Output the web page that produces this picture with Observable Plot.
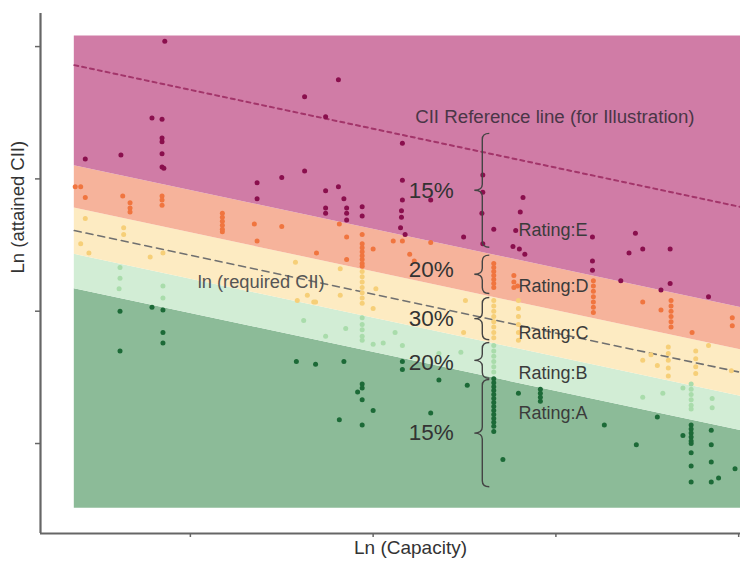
<!DOCTYPE html>
<html><head><meta charset="utf-8">
<script src="https://cdn.jsdelivr.net/npm/d3@7"></script>
<script src="https://cdn.jsdelivr.net/npm/@observablehq/plot@0.6"></script>
<style>body{margin:0;background:#fff} #chart svg{display:block}</style>
</head><body><div id="chart"></div>
<script>
// ---- axes (no numeric labels in the original) ----
const xTicks = [8, 10, 12, 14];
const yTicks = [1, 2, 3, 4];
const xDomain = [6.36, 14.02];
const yDomain = [0.32, 4.25];

// ---- rating bands ----
const bandX = [6.73, 14.02];
const bandTop = 4.08;
const bandBottom = 0.51;
const requiredAt8 = 2.423;       // ln(required CII) at x = 8
const requiredSlope = -0.147;
const referenceOffset = 1.25;    // CII reference line above required line
const ratings = ["A", "B", "C", "D", "E"];
const boundaryOffsets = [-0.44, -0.18, 0.17, 0.49]; // A/B, B/C, C/D, D/E
const bandColors = ["#8cbb98", "#d2edd5", "#fdebc2", "#f6b39b", "#d07ca6"];
const pointColors = ["#1c6a37", "#a9dcab", "#f6cf78", "#f0753f", "#8a0f4d"];

// ---- ships (ln capacity, ln attained CII) ----
const pointsE = [[7.72,4.04],[9.62,3.75],[9.25,3.62],[9.48,3.47],[7.58,3.46],[7.69,3.45],[7.69,3.31],[7.69,3.28],[7.69,3.19],[7.69,3.09],[7.71,3.08],
[6.85,3.15],[7.24,3.18],[10.32,3.27],[8.73,2.97],[8.73,2.85],[9.00,3.01],[9.25,3.06],[9.48,2.91],[9.62,2.94],[9.68,2.85],
[9.48,2.78],[9.48,2.74],[9.71,2.78],[9.71,2.74],[9.71,2.69],[9.88,2.79],[9.88,2.72],
[10.32,2.99],[10.32,2.84],[10.31,2.76],[10.31,2.71],[10.30,2.63],[10.63,2.84],[10.35,2.58],
[10.99,2.56],[11.20,3.03],[11.20,2.90],[11.19,2.74],[11.32,2.62],[11.20,2.51],
[11.64,2.86],[11.61,2.75],[11.56,2.61],[11.53,2.49],[11.60,2.47],[11.66,2.43],
[12.40,2.56],[12.40,2.38],[12.40,2.31],[12.87,2.59],[12.95,2.47],[12.80,2.44],[13.25,2.47],
[12.71,2.23],[13.25,2.21],[13.15,2.16],[13.67,2.11]];
const pointsD = [[6.74,2.94],[6.80,2.94],[6.85,2.86],[7.26,2.87],[7.34,2.82],[7.34,2.78],[7.34,2.75],[7.69,2.87],[7.69,2.84],[7.69,2.80],
[8.35,2.74],[8.35,2.71],[8.35,2.68],[8.35,2.65],[8.35,2.62],[8.35,2.60],
[8.70,2.66],[9.00,2.64],[8.73,2.53],[9.38,2.44],[9.63,2.66],[9.71,2.56],[9.71,2.39],[9.88,2.58],
[9.88,2.51],[9.88,2.48],[9.88,2.45],[9.88,2.42],[9.88,2.39],[9.88,2.36],[9.88,2.34],
[10.00,2.47],[10.22,2.53],[10.32,2.53],[10.40,2.43],[10.45,2.38],[10.63,2.52],
[11.32,2.36],[11.32,2.33],[11.32,2.30],[11.32,2.27],[11.32,2.24],[11.32,2.21],[11.32,2.18],
[11.54,2.27],[11.54,2.22],[11.54,2.18],[11.58,2.19],
[12.41,2.23],[12.41,2.19],[12.41,2.15],[12.41,2.11],[12.41,2.07],[12.41,2.03],[12.41,1.99],
[12.95,2.07],[13.15,2.01],[13.26,2.08],[13.26,2.04],[13.26,2.00],[13.26,1.96],[13.26,1.92],[13.26,1.88],
[13.49,1.84],[13.93,1.95],[13.93,1.89]];
const pointsC = [[6.85,2.70],[7.27,2.63],[6.80,2.51],[6.89,2.44],[7.56,2.41],[7.70,2.44],[7.27,2.58],
[9.15,2.37],[9.64,2.32],[9.35,2.07],[9.64,2.12],[10.03,2.17],
[9.88,2.30],[9.88,2.26],[9.88,2.22],[9.88,2.18],[9.88,2.14],[9.88,2.10],[9.88,2.06],
[9.17,2.08],[9.37,2.07],[9.28,2.12],[10.00,2.02],
[11.32,2.08],[11.32,2.04],[11.32,2.00],[11.32,1.96],[11.32,1.92],[11.32,1.88],[11.32,1.84],[11.32,1.80],
[11.59,2.08],[11.59,2.02],[11.59,1.96],[11.59,1.90],[11.59,1.84],[11.59,1.78],
[11.01,2.08],[10.99,1.84],
[12.95,1.63],[13.11,1.59],[13.04,1.67],[13.23,1.73],[13.23,1.68],[13.23,1.63],[13.23,1.57],[13.23,1.51],
[13.53,1.70],[13.53,1.64],[13.53,1.58],[13.53,1.53],[13.67,1.74],[13.92,1.55]];
const pointsB = [[7.23,2.33],[7.23,2.25],[7.22,2.17],[7.70,2.19],[7.70,2.10],
[9.24,1.93],[9.70,1.87],[9.48,1.81],[9.88,1.95],[9.88,1.90],[9.88,1.86],[9.88,1.81],[9.88,1.78],
[10.00,1.75],[10.11,1.76],[10.24,1.84],[10.32,1.74],[10.72,1.68],[10.96,1.69],
[11.32,1.74],[11.32,1.70],[11.32,1.66],[11.32,1.62],[11.32,1.58],[11.32,1.54],
[12.95,1.35],[13.17,1.38],[13.39,1.42],[13.48,1.45],[13.48,1.41],[13.48,1.37],[13.48,1.33],[13.48,1.29],[13.48,1.26],
[13.71,1.34],[13.71,1.27]];
const pointsA = [[7.23,2.00],[7.23,1.70],[7.58,2.03],[7.70,2.01],[7.70,1.84],[7.70,1.76],
[9.16,1.62],[9.37,1.60],[9.68,1.62],[9.88,1.45],[9.88,1.42],[9.83,1.39],[9.88,1.33],[10.00,1.25],[9.63,1.18],[9.88,1.14],[10.32,1.62],[10.32,1.56],
[10.72,1.48],[11.03,1.44],[10.63,1.23],
[11.32,1.49],[11.32,1.46],[11.32,1.43],[11.32,1.40],[11.32,1.37],[11.32,1.34],[11.32,1.31],[11.32,1.28],[11.32,1.25],[11.32,1.22],[11.32,1.19],[11.32,1.16],[11.32,1.13],[11.32,1.09],
[11.42,0.88],[11.59,1.38],[11.83,1.41],[11.83,1.38],[11.83,1.35],[11.83,1.32],
[12.53,1.14],[12.88,0.99],[13.11,1.20],[13.39,1.06],
[13.48,1.14],[13.48,1.11],[13.48,1.08],[13.48,1.05],[13.48,1.02],[13.48,1.00],[13.48,0.93],[13.48,0.83],[13.48,0.71],
[13.70,1.10],[13.70,0.99],[13.70,0.86],[13.70,0.71],[13.78,0.74],[13.96,0.81]];
const pointSets = [pointsA, pointsB, pointsC, pointsD, pointsE];

// ---- annotations ----
const bandLabels = ["Rating:A", "Rating:B", "Rating:C", "Rating:D", "Rating:E"];
const bandLabelY = [1.23, 1.53, 1.83, 2.19, 2.61];
const percentLabels = ["15%", "20%", "30%", "20%", "15%"];
const percentLabelY = [1.08, 1.61, 1.94, 2.31, 2.91];
const braceRanges = [[1.48, 0.67], [1.76, 1.49], [2.10, 1.78], [2.42, 2.13], [3.34, 2.48]];
const braceX = 11.20;
const percentX = 10.39;
const ratingX = 11.59;
const referenceLabel = {text: "CII Reference line (for Illustration)", x: 10.46, y: 3.47};
const requiredLabel = {text: "ln (required CII)", x: 8.08, y: 2.22};

const required = x => requiredAt8 + requiredSlope * (x - 8);
const edges = [x => bandBottom, ...boundaryOffsets.map(o => x => required(x) + o), x => bandTop];

const FONT = "'Liberation Sans', Arial, sans-serif";

function braces(...args) {
  const s = args.find(a => a && typeof a.x === "function" && typeof a.y === "function");
  const g = d3.create("svg:g").attr("fill", "none").attr("stroke", "#444").attr("stroke-width", 1.4);
  const sx = s.x(braceX);
  for (const [a, b] of braceRanges) {
    const y0 = s.y(a), y1 = s.y(b), ym = (y0 + y1) / 2, q = 6, w = 8, e = 7;
    g.append("path").attr("d",
      `M${sx + e},${y0} Q${sx},${y0} ${sx},${y0 + q} L${sx},${ym - q} Q${sx},${ym} ${sx - w},${ym} ` +
      `Q${sx},${ym} ${sx},${ym + q} L${sx},${y1 - q} Q${sx},${y1} ${sx + e},${y1}`);
  }
  return g.node();
}

const marks = [];
ratings.forEach((r, i) => {
  marks.push(Plot.areaY(bandX, {x: d => d, y1: edges[i], y2: edges[i + 1], fill: bandColors[i], curve: "linear"}));
});
marks.push(Plot.line(bandX, {x: d => d, y: d => required(d) + referenceOffset, stroke: "#a3356a", strokeWidth: 2, strokeDasharray: "4,4"}));
marks.push(Plot.line(bandX, {x: d => d, y: required, stroke: "#707070", strokeWidth: 1.6, strokeDasharray: "7,5"}));
ratings.forEach((r, i) => {
  marks.push(Plot.dot(pointSets[i], {x: d => d[0], y: d => d[1], r: 2.5, fill: pointColors[i], stroke: null}));
});
marks.push(braces);
marks.push(Plot.text(bandLabels, {x: () => ratingX, y: (d, i) => bandLabelY[i], text: d => d, textAnchor: "start", fontSize: 18, fill: "#3b3b3b"}));
marks.push(Plot.text(percentLabels, {x: () => percentX, y: (d, i) => percentLabelY[i], text: d => d, textAnchor: "start", fontSize: 22.5, fill: "#333"}));
marks.push(Plot.text([referenceLabel], {x: "x", y: "y", text: "text", textAnchor: "start", fontSize: 18.7, fill: "#4a3646"}));
marks.push(Plot.text([requiredLabel], {x: "x", y: "y", text: "text", textAnchor: "start", fontSize: 18.3, fill: "#555"}));
// axes
marks.push(Plot.axisY({ticks: yTicks, tickFormat: () => "", tickSize: 5, stroke: "#666", strokeWidth: 1.5, label: null}));
marks.push(Plot.axisX({ticks: xTicks, tickFormat: () => "", tickSize: 4, stroke: "#666", strokeWidth: 1.5, label: null}));
marks.push(Plot.ruleX([xDomain[0]], {stroke: "#666", strokeWidth: 2.2}));
marks.push(Plot.ruleY([yDomain[0]], {stroke: "#666", strokeWidth: 2.2}));
marks.push(Plot.text(["Ln (Capacity)"], {frameAnchor: "bottom", dy: 20, dx: 20, fontSize: 19, fill: "#333"}));
marks.push(Plot.text(["Ln (attained CII)"], {frameAnchor: "left", dx: -22, rotate: -90, fontSize: 18.5, fill: "#333"}));

const chart = Plot.plot({
  width: 740, height: 563,
  marginLeft: 40, marginRight: 0, marginTop: 13, marginBottom: 30,
  x: {domain: xDomain},
  y: {domain: yDomain},
  style: {fontFamily: FONT, background: "#fff"},
  marks
});
document.getElementById("chart").append(chart);
</script>
</body></html>
